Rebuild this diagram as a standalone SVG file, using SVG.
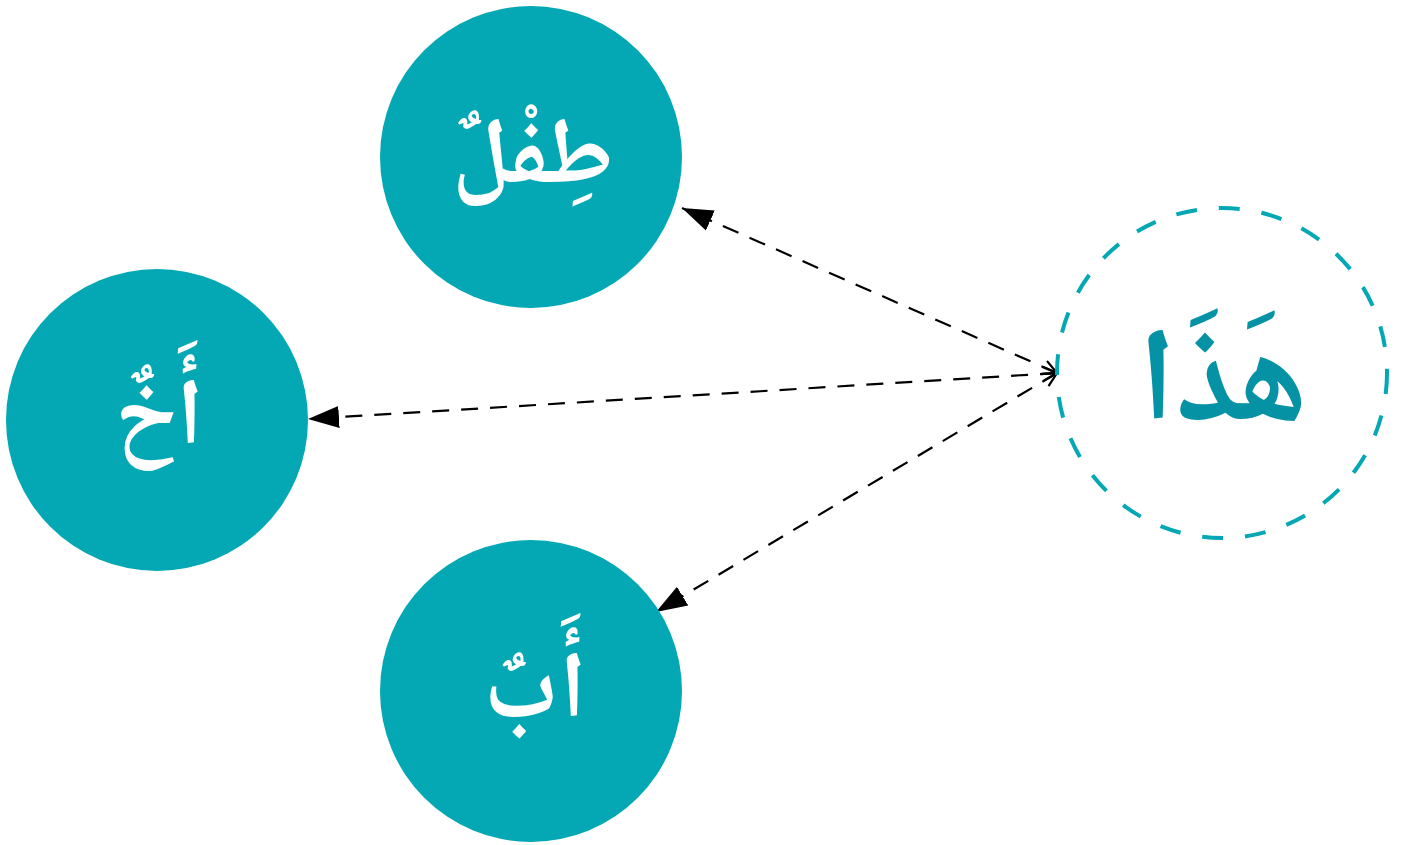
<svg xmlns="http://www.w3.org/2000/svg" width="1405" height="845" viewBox="0 0 1405 845">
<style>
.node{fill:#03a8b4;}
.lbl{font-family:"Noto Naskh Arabic","Noto Sans Arabic","Noto Sans","DejaVu Sans",sans-serif;font-weight:bold;font-size:94px;text-anchor:middle;}
.big{font-size:132px;}
.w{fill:#ffffff;}
.t{fill:#0492a4;}
.edge{stroke:#000;stroke-width:2.2;fill:none;stroke-dasharray:17 12;marker-end:url(#fa);marker-start:url(#oa);}
</style>
<defs>
<marker id="fa" markerWidth="32" markerHeight="24" refX="31" refY="12" orient="auto" markerUnits="userSpaceOnUse">
<path d="M0,1 L31,12 L0,23 Z" fill="#000"/>
</marker>
<marker id="oa" markerWidth="18" markerHeight="16" refX="1" refY="8" orient="auto" markerUnits="userSpaceOnUse">
<path d="M15,1 L1,8 L15,15" fill="none" stroke="#000" stroke-width="2.2"/>
</marker>
</defs>
<rect width="1405" height="845" fill="#fff"/>
<g id="connectors">
<line class="edge" x1="1057" y1="373" x2="682" y2="208"/>
<line class="edge" x1="1057" y1="373" x2="308" y2="419"/>
<line class="edge" x1="1057" y1="373" x2="656" y2="612"/>
</g>
<g id="node-tifl">
<circle class="node" cx="531" cy="157" r="151"/>
<text class="lbl w" x="533" y="183">طِفْلٌ</text>
</g>
<g id="node-akh">
<circle class="node" cx="157" cy="420" r="151"/>
<text class="lbl w" x="159" y="444">أَخٌ</text>
</g>
<g id="node-ab">
<circle class="node" cx="531" cy="691" r="151"/>
<text class="lbl w" x="535" y="717">أَبٌ</text>
</g>
<g id="node-hadha">
<circle cx="1222" cy="373" r="165" fill="none" stroke="#03a8b4" stroke-width="4" stroke-dasharray="21 22"/>
<text class="lbl big t" x="1223" y="420">هَذَا</text>
</g>
</svg>
